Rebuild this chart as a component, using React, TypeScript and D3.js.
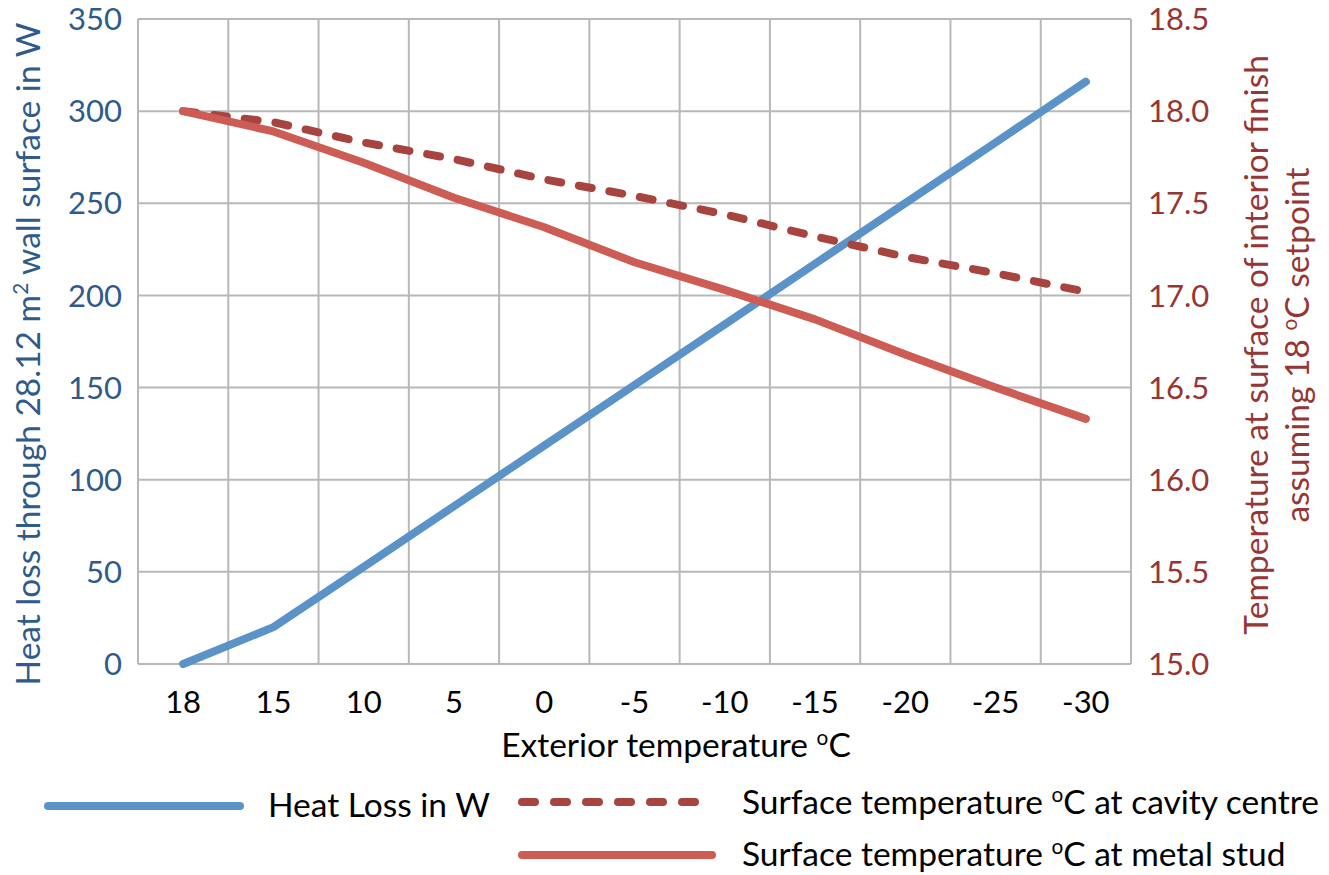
import React from "react";
import * as d3 from "d3";

const categories = ["18", "15", "10", "5", "0", "-5", "-10", "-15", "-20", "-25", "-30"];
const heatLoss = [0, 20, 52.7, 85.6, 118.5, 151.4, 184.3, 217.2, 250.1, 283, 316];
const cavityCentre = [18.0, 17.94, 17.83, 17.74, 17.63, 17.54, 17.44, 17.32, 17.21, 17.12, 17.02];
const metalStud = [18.0, 17.89, 17.72, 17.53, 17.37, 17.18, 17.03, 16.87, 16.68, 16.5, 16.33];
const leftTicks = [0, 50, 100, 150, 200, 250, 300, 350];
const rightTicks = [15.0, 15.5, 16.0, 16.5, 17.0, 17.5, 18.0, 18.5];

const W = 1329;
const H = 875;
const plot = { left: 138, right: 1131, top: 19, bottom: 664 };
const FONT = "Lato, 'Open Sans', sans-serif";
const BLUE = "#5B93C9";
const RED = "#CD5C54";
const DARKRED = "#A8443F";
const LEFTCOL = "#2F5A8C";
const RIGHTCOL = "#963634";
const GRID = "#B8B8B8";

function Sup({ children, size }: { children: string; size: number }) {
  return (
    <tspan fontSize={size * 0.62} dy={-size * 0.36}>
      {children}
    </tspan>
  );
}

export default function App() {
  const x = d3.scaleBand<string>().domain(categories).range([plot.left, plot.right]).padding(0);
  const cx = (c: string) => (x(c) as number) + x.bandwidth() / 2;
  const yL = d3.scaleLinear().domain([0, 350]).range([plot.bottom, plot.top]);
  const yR = d3.scaleLinear().domain([15, 18.5]).range([plot.bottom, plot.top]);

  const lineL = d3
    .line<number>()
    .x((_, i) => cx(categories[i]))
    .y((d) => yL(d));
  const lineR = d3
    .line<number>()
    .x((_, i) => cx(categories[i]))
    .y((d) => yR(d));

  const vLines = categories.map((c) => x(c) as number).concat([plot.right]);
  const fs = 31;
  const tfs = 33.5;
  const supUp = tfs * 0.36;

  return (
    <svg
      width={W}
      height={H}
      style={{ position: "absolute", left: 0, top: 0, background: "#fff" }}
      fontFamily={FONT}
    >
      <rect x={0} y={0} width={W} height={H} fill="#fff" />
      {/* grid */}
      {leftTicks.map((t) => (
        <line key={"h" + t} x1={plot.left} x2={plot.right} y1={yL(t)} y2={yL(t)} stroke={GRID} strokeWidth={2} />
      ))}
      {vLines.map((v, i) => (
        <line key={"v" + i} x1={v} x2={v} y1={plot.top} y2={plot.bottom} stroke={GRID} strokeWidth={2} />
      ))}

      {/* series */}
      <path d={lineL(heatLoss) || ""} fill="none" stroke={BLUE} strokeWidth={8} strokeLinecap="round" strokeLinejoin="round" />
      <path
        d={lineR(cavityCentre) || ""}
        fill="none"
        stroke={DARKRED}
        strokeWidth={8}
        strokeDasharray="13,18"
        strokeLinecap="round"
        strokeLinejoin="round"
      />
      <path d={lineR(metalStud) || ""} fill="none" stroke={RED} strokeWidth={8} strokeLinecap="round" strokeLinejoin="round" />

      {/* left ticks */}
      {leftTicks.map((t) => (
        <text key={"lt" + t} x={122} y={yL(t)} dy="0.36em" textAnchor="end" fontSize={fs} fill={LEFTCOL}>
          {t}
        </text>
      ))}
      {/* right ticks */}
      {rightTicks.map((t) => (
        <text key={"rt" + t} x={1148} y={yR(t)} dy="0.36em" textAnchor="start" fontSize={fs} fill={RIGHTCOL}>
          {t.toFixed(1)}
        </text>
      ))}
      {/* x ticks */}
      {categories.map((c) => (
        <text key={"xt" + c} x={cx(c)} y={713} textAnchor="middle" fontSize={fs} fill="#000">
          {c}
        </text>
      ))}

      {/* x title */}
      <text x={676} y={757} textAnchor="middle" fontSize={tfs} fill="#000">
        Exterior temperature <Sup size={tfs}>o</Sup>
        <tspan dy={supUp}>C</tspan>
      </text>

      {/* left title */}
      <text transform={`translate(40,354) rotate(-90)`} textAnchor="middle" fontSize={tfs} fill={LEFTCOL}>
        Heat loss through 28.12 m<Sup size={tfs}>2</Sup>
        <tspan dy={supUp}> wall surface in W</tspan>
      </text>

      {/* right title */}
      <text transform={`translate(1268,345) rotate(-90)`} textAnchor="middle" fontSize={tfs} fill={RIGHTCOL}>
        Temperature at surface of interior finish
      </text>
      <text transform={`translate(1309,345) rotate(-90)`} textAnchor="middle" fontSize={tfs} fill={RIGHTCOL}>
        assuming 18 <Sup size={tfs}>o</Sup>
        <tspan dy={supUp}>C setpoint</tspan>
      </text>

      {/* legend */}
      <line x1={48} x2={240} y1={806} y2={806} stroke={BLUE} strokeWidth={8} strokeLinecap="round" />
      <text x={268} y={817} fontSize={tfs} fill="#000">
        Heat Loss in W
      </text>
      <line
        x1={522}
        x2={712}
        y1={802}
        y2={802}
        stroke={DARKRED}
        strokeWidth={8}
        strokeDasharray="13,19"
        strokeLinecap="round"
      />
      <text x={742} y={814} fontSize={tfs} fill="#000">
        Surface temperature <Sup size={tfs}>o</Sup>
        <tspan dy={supUp}>C at cavity centre</tspan>
      </text>
      <line x1={522} x2={712} y1={855} y2={855} stroke={RED} strokeWidth={8} strokeLinecap="round" />
      <text x={742} y={866} fontSize={tfs} fill="#000">
        Surface temperature <Sup size={tfs}>o</Sup>
        <tspan dy={supUp}>C at metal stud</tspan>
      </text>
    </svg>
  );
}
